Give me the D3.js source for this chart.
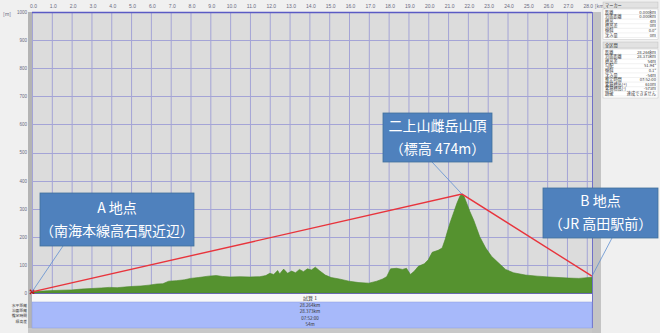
<!DOCTYPE html>
<html>
<head>
<meta charset="utf-8">
<script src="https://cdn.jsdelivr.net/npm/d3@7"></script>
<style>
  body { margin: 0; background: #f0f0f0; }
  svg { display: block; font-family: "Noto Sans CJK JP", "Noto Sans", sans-serif; }
</style>
</head>
<body>
<svg id="chart" width="660" height="333"></svg>
<script>
// Profile data (distance km / elevation m)
const distKm = [0, 0.3, 0.8, 1.5, 2.0, 2.5, 3.0, 3.5, 3.9, 4.3, 4.8, 5.2, 5.5, 5.9, 6.3, 6.6, 6.9, 7.3, 7.7, 8.0,
  8.4, 8.9, 9.3, 9.6, 10.0, 10.5, 11.0, 11.5, 11.8, 12.0, 12.2, 12.4, 12.5, 12.7, 12.9, 13.1, 13.3, 13.5, 13.7, 13.9,
  14.1, 14.3, 14.5, 14.8, 15.1, 15.5, 16.0, 16.5, 17.0, 17.4, 17.7, 17.9, 18.0, 18.1, 18.4, 18.7, 18.9, 19.1, 19.3, 19.5,
  19.8, 20.0, 20.2, 20.5, 20.7, 20.85, 20.95, 21.1, 21.3, 21.45, 21.6, 21.7, 21.8, 21.95, 22.1, 22.3, 22.6, 22.9, 23.2, 23.5,
  23.9, 24.3, 24.9, 25.5, 26.1, 26.6, 27.1, 27.6, 28.264]
const elevM = [4, 6, 8, 10, 11, 14, 16, 18, 20, 19, 22, 24, 25, 28, 32, 33, 42, 44, 47, 52,
  55, 60, 62, 59, 57, 58, 57, 58, 62, 70, 66, 80, 68, 85, 70, 78, 72, 84, 76, 86,
  82, 92, 80, 64, 55, 50, 42, 37, 35, 42, 50, 58, 72, 86, 88, 84, 88, 66, 78, 95,
  104, 118, 145, 152, 160, 190, 215, 250, 290, 320, 345, 352, 345, 318, 290, 258, 200, 160, 130, 110,
  84, 72, 64, 60, 57, 55, 53, 52, 56]

// Straight line joining the three marked points
const markerDist = [0, 21.7, 28.264]
const markerElev = [4, 352, 60]

const xTickValues = [0, 1, 2, 3, 4, 5, 6, 7, 8, 9, 10, 11, 12, 13, 14, 15, 16, 17, 18, 19, 20, 21, 22, 23, 24, 25, 26, 27, 28]
const yTickValues = [0, 100, 200, 300, 400, 500, 600, 700, 800, 900, 1000]

const calloutText = [
  ['A 地点', '（南海本線高石駅近辺）'],
  ['二上山雌岳山頂', '（標高 474m）'],
  ['B 地点', '（JR 高田駅前）']
]

const summaryLabels = ['水平距離', '沿面距離', '推定時間', '標高差']
const summaryValues = ['28.264km', '28.373km', '07:52:00', '54m']

const markerRows = [['距離', '0.000km'], ['沿面距離', '0.000km'], ['標高', '4m'], ['標高差', '0m'], ['傾斜', '0.0°'], ['沈み量', '0m']]
const totalRows = [['距離', '28.264km'], ['沿面距離', '28.373km'], ['標高差', '54m'], ['勾配', '51.94°'], ['傾斜', '0.1°'],
  ['沈み量', '-54m'], ['推定時間', '07:52:00'], ['累積標高(+)', '610m'], ['累積標高(-)', '-573m'], ['踏破', '達成できません']]

// Layout
const plot = { left: 32, right: 592, top: 12, bottom: 293 }

const svg = d3.select('#chart')

const x = d3.scaleLinear().domain([0, 28.264]).range([plot.left, plot.right])
const y = d3.scaleLinear().domain([0, 1000]).range([plot.bottom, plot.top])

// Backgrounds
svg.append('rect').attr('width', 660).attr('height', 333).attr('fill', '#f0f0f0')
svg.append('rect')
    .attr('x', plot.left).attr('y', plot.top)
    .attr('width', plot.right - plot.left).attr('height', plot.bottom - plot.top)
    .attr('fill', '#dcdcdc')

// left / right frame bars
svg.append('rect').attr('x', 28).attr('y', plot.top).attr('width', 4).attr('height', 333 - plot.top).attr('fill', '#b4b4b4')
svg.append('rect').attr('x', plot.right).attr('y', plot.top).attr('width', 9).attr('height', 333 - plot.top).attr('fill', '#c4c4c4')
svg.append('rect').attr('x', 28).attr('y', 328).attr('width', plot.right - 28).attr('height', 5).attr('fill', '#c8c8c8')

// Grid
const grid = svg.append('g').attr('stroke', '#a4a4d6').attr('stroke-width', 1)
grid.selectAll('.vx')
  .data(xTickValues)
  .enter()
  .append('line')
    .attr('x1', d => x(d) + 0.5).attr('x2', d => x(d) + 0.5)
    .attr('y1', plot.top).attr('y2', plot.bottom)
grid.selectAll('.hy')
  .data(yTickValues)
  .enter()
  .append('line')
    .attr('x1', plot.left).attr('x2', plot.right)
    .attr('y1', d => Math.round(y(d)) + 0.5).attr('y2', d => Math.round(y(d)) + 0.5)

// Elevation profile
const profile = distKm.map((d, i) => [d, elevM[i]])
const area = d3.area()
    .x(d => x(d[0]))
    .y0(y(0))
    .y1(d => y(d[1]))
svg.append('path')
    .datum(profile)
    .attr('d', area)
    .attr('fill', '#55922f')
    .attr('stroke', '#4a8628')
    .attr('stroke-width', 0.6)

// Frame lines
svg.append('line').attr('x1', plot.left).attr('x2', plot.right).attr('y1', plot.top + 0.5).attr('y2', plot.top + 0.5)
    .attr('stroke', '#5a5ac4').attr('stroke-width', 1.5)
svg.append('line').attr('x1', plot.right + 0.5).attr('x2', plot.right + 0.5).attr('y1', plot.top).attr('y2', 328)
    .attr('stroke', '#7070c8').attr('stroke-width', 1)
svg.append('line').attr('x1', plot.left).attr('x2', plot.right).attr('y1', plot.bottom + 0.5).attr('y2', plot.bottom + 0.5)
    .attr('stroke', '#6a6ab0').attr('stroke-width', 1)

// Axes
const topAxis = d3.axisTop(x)
    .tickValues(xTickValues)
    .tickSize(0)
    .tickPadding(0)
    .tickFormat(d3.format('.1f'))
const gTop = svg.append('g').attr('transform', 'translate(0,8)').call(topAxis)
gTop.select('.domain').remove()
gTop.selectAll('text').attr('font-size', 5).attr('fill', '#6a6a80').attr('dx', 1)
svg.append('text').attr('x', x(28) + 8).attr('y', 8).attr('font-size', 5).attr('fill', '#6a6a80').text('[km]')

const leftAxis = d3.axisLeft(y)
    .tickValues(yTickValues)
    .tickSize(0)
    .tickPadding(0)
    .tickFormat(d3.format('d'))
const gLeft = svg.append('g').attr('transform', 'translate(27,0)').call(leftAxis)
gLeft.select('.domain').remove()
gLeft.selectAll('text').attr('font-size', 4.5).attr('fill', '#6a6a80')
svg.append('text').attr('x', 3).attr('y', 16).attr('font-size', 5).attr('fill', '#6a6a80').text('[m]')

// Red marker line
const markerPts = markerDist.map((d, i) => [d, markerElev[i]])
svg.append('path')
    .datum(markerPts)
    .attr('d', d3.line().x(d => x(d[0])).y(d => y(d[1])))
    .attr('fill', 'none')
    .attr('stroke', '#e8343c')
    .attr('stroke-width', 1.4)
svg.append('path')
    .attr('d', d3.symbol(d3.symbolX, 14)())
    .attr('transform', `translate(${x(markerDist[0])},${y(markerElev[0])})`)
    .attr('stroke', '#c01010').attr('stroke-width', 1.2)

// Callouts
const boxes = [
  { x: 40, y: 193, w: 154, h: 53, lx: 63 },
  { x: 383, y: 113, w: 109, h: 49, lx: 432 },
  { x: 543, y: 188, w: 115, h: 50, lx: 612 }
]
boxes.forEach((b, i) => {
  const g = svg.append('g')
  g.append('line')
      .attr('x1', b.lx).attr('y1', b.y + b.h)
      .attr('x2', x(markerDist[i])).attr('y2', y(markerElev[i]))
      .attr('stroke', '#5f8fd0').attr('stroke-width', 0.8)
  g.append('rect')
      .attr('x', b.x).attr('y', b.y).attr('width', b.w).attr('height', b.h)
      .attr('fill', '#4f81bd').attr('stroke', '#41719c').attr('stroke-width', 0.8)
  g.selectAll('text')
    .data(calloutText[i])
    .enter()
    .append('text')
      .attr('x', b.x + b.w / 2)
      .attr('y', (d, j) => b.y + b.h / 2 - 7 + j * 23)
      .attr('text-anchor', 'middle')
      .attr('font-size', 14)
      .attr('fill', '#ffffff')
      .text(d => d)
})

// Bottom summary band
svg.append('rect').attr('x', plot.left).attr('y', 294).attr('width', plot.right - plot.left).attr('height', 8).attr('fill', '#f8f8f8')
svg.append('text').attr('x', 310).attr('y', 300).attr('text-anchor', 'middle').attr('font-size', 5).attr('fill', '#333').text('試算 1')
svg.append('rect').attr('x', plot.left).attr('y', 302).attr('width', plot.right - plot.left).attr('height', 26).attr('fill', '#a7b9fa')
    .attr('stroke', '#8a9ce0').attr('stroke-width', 0.5)
svg.selectAll('.slab')
  .data(summaryLabels)
  .enter()
  .append('text')
    .attr('x', 27).attr('y', (d, i) => 307 + i * 5.2)
    .attr('text-anchor', 'end').attr('font-size', 3.8).attr('fill', '#333')
    .text(d => d)
svg.selectAll('.sval')
  .data(summaryValues)
  .enter()
  .append('text')
    .attr('x', 310).attr('y', (d, i) => 307 + i * 6.3)
    .attr('text-anchor', 'middle').attr('font-size', 4.5).attr('fill', '#333')
    .text(d => d)

// Right information panel
const panel = svg.append('g').attr('font-size', 4.2).attr('fill', '#333')
const drawSection = (title, rows, top) => {
  panel.append('rect').attr('x', 603).attr('y', top).attr('width', 55).attr('height', 6).attr('fill', '#e2e2e2').attr('stroke', '#b8b8b8').attr('stroke-width', 0.4)
  panel.append('text').attr('x', 605).attr('y', top + 4.6).text(title)
  panel.append('rect').attr('x', 603).attr('y', top + 7).attr('width', 55).attr('height', rows.length * 4.6 + 3)
      .attr('fill', '#ffffff').attr('stroke', '#b8b8b8').attr('stroke-width', 0.4)
  rows.forEach((r, i) => {
    const ry = top + 11.5 + i * 4.6
    panel.append('text').attr('x', 605).attr('y', ry).text(r[0])
    panel.append('text').attr('x', 656).attr('y', ry).attr('text-anchor', 'end').text(r[1])
    panel.append('line').attr('x1', 604).attr('x2', 657).attr('y1', ry + 1).attr('y2', ry + 1).attr('stroke', '#d0d0d0').attr('stroke-width', 0.3)
  })
}
drawSection('マーカー', markerRows, 2)
drawSection('全区間', totalRows, 42)
</script>
</body>
</html>
